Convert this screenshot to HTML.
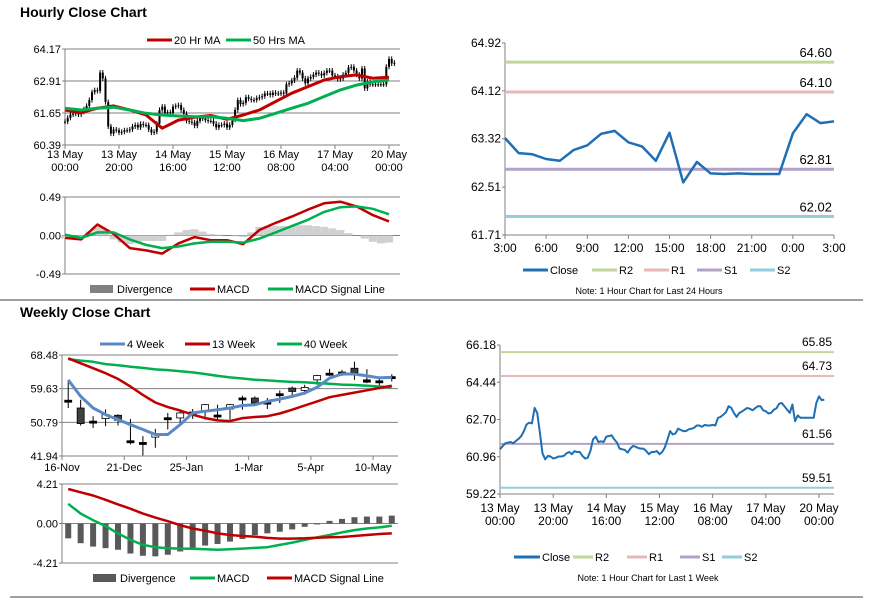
<!DOCTYPE html>
<html><head><meta charset="utf-8"><style>
html,body{margin:0;padding:0;background:#fff;}
svg{display:block;font-family:"Liberation Sans",Arial,sans-serif;}
</style></head><body>
<svg id="s" width="873" height="601" viewBox="0 0 873 601" xmlns="http://www.w3.org/2000/svg"></svg>
<script>
// ---------- DATA ----------
const hourlyClose = [61.31,61.46,61.59,61.62,61.65,61.59,61.70,61.80,61.93,62.16,62.47,62.55,62.52,63.24,63.01,62.08,61.12,60.84,61.00,60.97,60.88,60.91,60.97,60.97,61.00,61.12,61.18,61.08,61.22,61.18,61.18,61.00,60.88,60.91,61.23,61.77,61.90,61.65,61.68,61.65,61.90,61.93,61.96,61.77,61.62,61.34,61.31,61.28,61.15,61.34,61.46,61.43,61.37,61.34,61.34,61.23,61.08,61.18,61.18,61.23,61.08,61.18,61.39,61.77,62.16,62.00,62.05,62.27,62.21,62.16,62.16,62.24,62.27,62.31,62.42,62.42,62.36,62.45,62.42,62.42,62.45,62.42,62.78,62.82,62.93,63.04,63.32,63.24,63.01,62.82,63.01,63.07,63.16,63.24,63.20,63.13,63.23,63.32,63.32,63.13,63.09,62.98,63.01,63.16,63.23,63.44,63.47,63.32,63.16,63.01,63.40,62.62,62.89,62.78,62.78,62.78,62.78,62.78,62.78,63.47,63.78,63.60,63.63];
const ma20 = [61.77,61.66,61.84,61.93,61.77,61.57,61.05,61.37,61.48,61.55,61.40,61.57,61.77,62.10,62.43,62.69,62.95,63.08,63.15,63.02,63.06];
const ma50 = [61.84,61.77,61.84,61.88,61.77,61.64,61.57,61.53,61.50,61.50,61.44,61.35,61.44,61.64,61.84,62.03,62.30,62.56,62.75,62.88,62.95];
const hMacd = [-0.03,-0.05,0.14,0.02,-0.16,-0.19,-0.23,-0.10,-0.02,-0.06,-0.06,-0.11,0.07,0.16,0.24,0.33,0.41,0.43,0.37,0.26,0.18];
const hSignal = [0.01,-0.03,0.04,0.04,-0.05,-0.12,-0.16,-0.14,-0.10,-0.08,-0.08,-0.09,-0.04,0.04,0.12,0.20,0.30,0.36,0.37,0.34,0.27];
const hDiv = [-0.04,-0.03,-0.02,0.05,0.11,0.08,-0.05,-0.09,-0.11,-0.09,-0.07,-0.07,-0.07,0.01,0.04,0.07,0.08,0.05,0.02,0.01,0.0,-0.01,-0.02,0.04,0.11,0.12,0.12,0.12,0.12,0.13,0.13,0.12,0.11,0.09,0.07,0.03,0.0,-0.04,-0.08,-0.10,-0.09];
const hourTickLabels = [["13 May","00:00"],["13 May","20:00"],["14 May","16:00"],["15 May","12:00"],["16 May","08:00"],["17 May","04:00"],["20 May","00:00"]];
const hourYTicks = [64.17,62.91,61.65,60.39];
const hMacdTicks = [0.49,0.00,-0.49];

const dayClose = [63.33,63.08,63.06,62.98,62.95,63.13,63.21,63.40,63.45,63.26,63.19,62.95,63.42,62.59,62.93,62.74,62.73,62.74,62.73,62.73,62.73,63.41,63.73,63.58,63.61];
const dayTickLabels = ["3:00","6:00","9:00","12:00","15:00","18:00","21:00","0:00","3:00"];
const dayYTicks = [64.92,64.12,63.32,62.51,61.71];
const dayLevels = [64.60,64.10,62.81,62.02];
const weekLevels = [65.85,64.73,61.56,59.51];
const weekYTicks = [66.18,64.44,62.70,60.96,59.22];

const wOpen  = [56.6,54.55,51.1,51.77,52.64,45.95,45.5,46.90,52.0,51.94,53.5,53.86,52.7,54.29,57.2,57.17,56.1,58.3,59.78,59.17,61.95,63.7,64.0,65.0,61.34,61.7,62.8];
const wClose = [56.3,50.46,51.0,52.81,51.34,45.75,45.3,47.77,51.85,53.25,53.35,55.43,52.55,55.43,57.05,55.86,55.95,58.15,58.91,59.95,63.08,63.55,63.85,63.87,61.95,61.6,62.7];
const wHigh  = [61.52,56.72,52.4,54.2,52.9,51.68,47.16,49.07,53.25,54.1,54.29,55.6,55.43,55.6,57.78,57.6,57.17,59.17,60.21,60.65,63.26,64.82,64.56,66.74,64.74,62.82,63.43];
const wLow   = [54.55,49.94,49.33,49.77,49.96,44.98,42.11,44.11,48.9,49.94,51.68,51.51,51.34,51.51,54.12,55.16,54.29,55.86,57.78,58.04,60.65,63.0,63.0,61.95,61.08,60.39,61.52];
const ma4w  = [61.95,57.6,54.55,52.81,51.5,50.2,48.9,47.6,47.6,50.2,53.25,53.7,54.1,54.55,55.2,55.43,56.3,56.9,57.6,58.5,60.0,62.4,63.5,63.5,63.0,62.5,62.6];
const ma13w = [67.6,66.3,65.0,63.7,62.2,60.2,58.0,56.0,54.8,53.9,52.8,51.9,51.3,51.1,51.9,52.2,52.4,53.1,54.1,55.2,56.3,57.4,58.0,58.6,59.2,59.8,60.4];
const ma40w = [67.4,67.0,66.7,66.1,65.8,65.4,65.1,64.7,64.5,64.2,63.9,63.5,63.0,62.6,62.3,62.0,61.8,61.6,61.4,61.3,61.1,60.9,60.7,60.6,60.4,60.2,60.0];
const wDiv    = [-1.58,-2.1,-2.46,-2.63,-2.8,-3.2,-3.44,-3.5,-3.33,-2.98,-2.63,-2.35,-2.18,-1.93,-1.65,-1.23,-1.05,-0.88,-0.63,-0.35,-0.1,0.28,0.49,0.67,0.74,0.74,0.84];
const wMacd   = [2.1,1.05,0.35,-0.28,-1.05,-1.75,-2.28,-2.53,-2.63,-2.67,-2.7,-2.74,-2.8,-2.74,-2.67,-2.6,-2.53,-2.28,-2.04,-1.75,-1.47,-1.23,-0.95,-0.7,-0.53,-0.42,-0.25];
const wSignal = [3.68,3.33,2.98,2.53,2.04,1.58,1.05,0.63,0.25,-0.18,-0.53,-0.77,-1.05,-1.23,-1.33,-1.4,-1.54,-1.61,-1.61,-1.58,-1.51,-1.47,-1.44,-1.33,-1.23,-1.12,-1.05];
const weekTickLabels = ["16-Nov","21-Dec","25-Jan","1-Mar","5-Apr","10-May"];
const weeklyYTicks = [68.48,59.63,50.79,41.94];
const wMacdTicks = [4.21,0.00,-4.21];

// ---------- HELPERS ----------
const NS="http://www.w3.org/2000/svg";
const svg=document.getElementById('s');
function mk(tag,a,p){const e=document.createElementNS(NS,tag);for(const k in a)e.setAttribute(k,a[k]);(p||svg).appendChild(e);return e;}
function grp(name){const g=mk('g',{});


return g;}
function txt(p,x,y,s,o){o=o||{};const t=mk('text',{x:x,y:y,'font-size':o.size||11,'text-anchor':o.anchor||'start',fill:o.fill||'#000','font-weight':o.weight||'normal'},p);t.textContent=s;return t;}
function lin(d0,d1,r0,r1){return v=>r0+(v-d0)/(d1-d0)*(r1-r0);}
function poly(p,pts,color,w,name){const e=mk('polyline',{points:pts.map(q=>q[0].toFixed(1)+','+q[1].toFixed(1)).join(' '),fill:'none',stroke:color,'stroke-width':w,'stroke-linejoin':'round'},p);


return e;}
function legend(p,x,y,color,label,kind,name,len){len=len||25;const g=mk('g',{},p);


if(kind==='bar')mk('rect',{x:x,y:y-4,width:23,height:8,fill:color},g);else mk('line',{x1:x,y1:y,x2:x+len,y2:y,stroke:color,'stroke-width':3},g);
txt(g,x+len+2,y+4,label,{size:11});}
function yAxis(p,x0,x1,sy,ticks,fmt,size,grid){mk('line',{x1:x0,y1:sy(ticks[0]),x2:x0,y2:sy(ticks[ticks.length-1]),stroke:'#808080'},p);
ticks.forEach(t=>{if(grid)mk('line',{x1:x0,y1:sy(t),x2:x1,y2:sy(t),stroke:'#808080','stroke-width':1},p);
mk('line',{x1:x0-3,y1:sy(t),x2:x0,y2:sy(t),stroke:'#808080'},p);
txt(p,x0-4,sy(t)+4,t.toFixed(2),{anchor:'end',size:size});});}

// ---------- TITLES & SEPARATORS ----------
const titles=grp('titles');
txt(titles,20,17,'Hourly Close Chart',{size:14,weight:'bold'});
txt(titles,20,317,'Weekly Close Chart',{size:14,weight:'bold'});
mk('line',{x1:0,y1:300,x2:863,y2:300,stroke:'#808080','stroke-width':1.5},titles);
mk('line',{x1:10,y1:597,x2:863,y2:597,stroke:'#808080','stroke-width':1.5},titles);

// ---------- PANEL 1 ----------
{
const g=grp('hourly-candle-chart');
const X0=65,X1=400,PX=2.7;
const hx=h=>X0+h*PX;
const sy=lin(64.17,60.39,49,145);
yAxis(g,X0,X1,sy,hourYTicks,null,11,true);
mk('line',{x1:X0,y1:145,x2:X1,y2:145,stroke:'#808080'},g);
hourTickLabels.forEach((l,i)=>{const x=hx(i*20);mk('line',{x1:x,y1:145,x2:x,y2:149,stroke:'#808080'},g);
txt(g,x,158,l[0],{anchor:'middle',size:11});txt(g,x,171,l[1],{anchor:'middle',size:11});});
const cg=grp('hourly-candles');g.appendChild(cg);
hourlyClose.forEach((c,i)=>{const o=i?hourlyClose[i-1]:c;const x=hx(i);
const hi=Math.max(o,c)+0.1,lo=Math.min(o,c)-0.1;
const w=mk('line',{x1:x,y1:sy(hi),x2:x,y2:sy(lo),stroke:'#000','stroke-width':1},cg);


const b=mk('rect',{x:x-1,y:sy(Math.max(o,c)),width:2,height:Math.max(1,Math.abs(sy(o)-sy(c))),fill:'#000'},cg);

});
poly(g,ma20.map((v,i)=>[hx(i*6),sy(v)]),'#c00000',3,'ma20-line');
poly(g,ma50.map((v,i)=>[hx(i*6),sy(v)]),'#00b050',3,'ma50-line');
legend(g,147,40,'#c00000','20 Hr MA','line','legend-ma20');
legend(g,226,40,'#00b050','50 Hrs MA','line','legend-ma50');
}
// ---------- PANEL 2 ----------
{
const g=grp('hourly-macd-chart');
const X0=65,X1=400,PX=2.7;const hx=h=>X0+h*PX;
const sy=lin(0.49,-0.49,197,274);
yAxis(g,X0,X1,sy,hMacdTicks,null,11,true);
hDiv.forEach((v,i)=>{const r=mk('rect',{x:hx(i*3)-4,y:Math.min(sy(v),sy(0)),width:8,height:Math.abs(sy(v)-sy(0)),fill:'#d0d0d0'},g);

});
poly(g,hMacd.map((v,i)=>[hx(i*6),sy(v)]),'#c00000',2.5,'macd-line');
poly(g,hSignal.map((v,i)=>[hx(i*6),sy(v)]),'#00b050',2.5,'macd-signal-line');
legend(g,90,289,'#808080','Divergence','bar','legend-divergence');
legend(g,190,289,'#c00000','MACD','line','legend-macd');
legend(g,268,289,'#00b050','MACD Signal Line','line','legend-signal');
}
// ---------- PANEL 3 ----------
{
const g=grp('day-close-chart');
const X0=505,X1=834;const sx=h=>X0+h*(X1-X0)/24;
const sy=lin(64.92,61.71,43,235);
yAxis(g,X0,X1,sy,dayYTicks,null,12,false);
mk('line',{x1:X0,y1:235,x2:X1,y2:235,stroke:'#808080'},g);
dayTickLabels.forEach((l,i)=>{const x=sx(i*3);mk('line',{x1:x,y1:235,x2:x,y2:239,stroke:'#808080'},g);txt(g,x,252,l,{anchor:'middle',size:12});});
const cols=['#c3d69b','#e6b9b8','#b3a2c7','#93cddd'];const nm=['r2','r1','s1','s2'];
dayLevels.forEach((v,i)=>{const l=mk('line',{x1:X0,y1:sy(v),x2:X1,y2:sy(v),stroke:cols[i],'stroke-width':3},g);


txt(g,X1-2,sy(v)-5,v.toFixed(2),{anchor:'end',size:13});});
poly(g,dayClose.map((v,i)=>[sx(i),sy(v)]),'#1f6fb4',2.5,'close-line');
legend(g,523,270,'#1f6fb4','Close','line','legend-close');
legend(g,592,270,cols[0],'R2','line','legend-r2');
legend(g,644,270,cols[1],'R1','line','legend-r1');
legend(g,697,270,cols[2],'S1','line','legend-s1');
legend(g,750,270,cols[3],'S2','line','legend-s2');
txt(g,649,294,'Note: 1 Hour Chart for Last 24 Hours',{anchor:'middle',size:9});
}
// ---------- PANEL 4 ----------
const WX0=62,WX1=398,BW=(WX1-WX0)/27;const wx=i=>WX0+BW*(i+0.5);
{
const g=grp('weekly-candle-chart');
const sy=lin(68.48,41.94,355,456);
yAxis(g,WX0,WX1,sy,weeklyYTicks,null,11,true);
weekTickLabels.forEach((l,i)=>{const x=WX0+BW*5*i;mk('line',{x1:x,y1:456,x2:x,y2:460,stroke:'#808080'},g);txt(g,x,471,l,{anchor:'middle',size:11});});
wOpen.forEach((o,i)=>{const c=wClose[i];const x=wx(i);
const w=mk('line',{x1:x,y1:sy(wHigh[i]),x2:x,y2:sy(wLow[i]),stroke:'#000','stroke-width':1},g);


const up=c>=o;const h=Math.max(2,Math.abs(sy(o)-sy(c)));
const b=mk('rect',{x:x-3.5,y:sy(Math.max(o,c)),width:7,height:h,fill:(h<=2.5)?'#000':(up?'#fff':'#404040'),stroke:'#000','stroke-width':0.8},g);

});
poly(g,ma40w.map((v,i)=>[wx(i),sy(v)]),'#00b050',2.5,'ma40w-line');
poly(g,ma13w.map((v,i)=>[wx(i),sy(v)]),'#c00000',2.5,'ma13w-line');
poly(g,ma4w.map((v,i)=>[wx(i),sy(v)]),'#5a8ac6',3,'ma4w-line');
legend(g,100,344,'#5a8ac6','4 Week','line','legend-4week');
legend(g,185,344,'#c00000','13 Week','line','legend-13week');
legend(g,277,344,'#00b050','40 Week','line','legend-40week');
}
// ---------- PANEL 5 ----------
{
const g=grp('weekly-macd-chart');
const sy=lin(4.21,-4.21,484,563);
yAxis(g,WX0,WX1,sy,wMacdTicks,null,11,true);
wDiv.forEach((v,i)=>{const r=mk('rect',{x:wx(i)-3,y:Math.min(sy(v),sy(0)),width:6,height:Math.abs(sy(v)-sy(0)),fill:'#595959'},g);

});
poly(g,wMacd.map((v,i)=>[wx(i),sy(v)]),'#00b050',2.5,'weekly-macd-line');
poly(g,wSignal.map((v,i)=>[wx(i),sy(v)]),'#c00000',2.5,'weekly-signal-line');
legend(g,93,578,'#595959','Divergence','bar','legend-weekly-divergence');
legend(g,190,578,'#00b050','MACD','line','legend-weekly-macd');
legend(g,267,578,'#c00000','MACD Signal Line','line','legend-weekly-signal');
}
// ---------- PANEL 6 ----------
{
const g=grp('week-close-chart');
const X0=500,X1=834,PX=(819-500)/120;const sx=h=>X0+h*PX;
const sy=lin(66.18,59.22,345,494);
yAxis(g,X0,X1,sy,weekYTicks,null,12,false);
mk('line',{x1:X0,y1:494,x2:X1,y2:494,stroke:'#808080'},g);
hourTickLabels.forEach((l,i)=>{const x=sx(i*20);mk('line',{x1:x,y1:494,x2:x,y2:498,stroke:'#808080'},g);
txt(g,x,512,l[0],{anchor:'middle',size:12});txt(g,x,525,l[1],{anchor:'middle',size:12});});
const cols=['#c3d69b','#e6b9b8','#b3a2c7','#93cddd'];const nm=['r2','r1','s1','s2'];
weekLevels.forEach((v,i)=>{const l=mk('line',{x1:X0,y1:sy(v),x2:X1,y2:sy(v),stroke:cols[i],'stroke-width':2},g);


txt(g,X1-2,sy(v)-6,v.toFixed(2),{anchor:'end',size:12});});
poly(g,hourlyClose.map((v,i)=>[sx(i),sy(v)]),'#1f6fb4',2,'week-close-line');
legend(g,514,557,'#1f6fb4','Close','line','legend-week-close',26);
legend(g,573,557,cols[0],'R2','line','legend-week-r2',20);
legend(g,627,557,cols[1],'R1','line','legend-week-r1',20);
legend(g,680,557,cols[2],'S1','line','legend-week-s1',20);
legend(g,722,557,cols[3],'S2','line','legend-week-s2',20);
txt(g,648,581,'Note: 1 Hour Chart for Last 1 Week',{anchor:'middle',size:9});
}
</script>
</body></html>
